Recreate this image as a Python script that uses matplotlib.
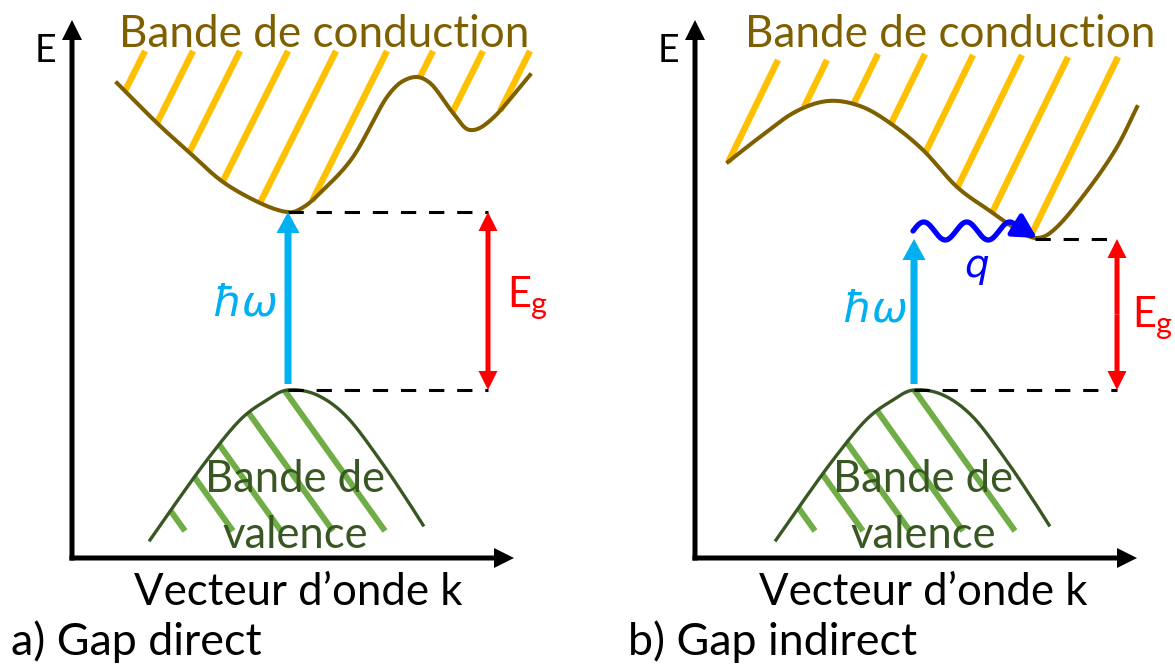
import numpy as np
import matplotlib.pyplot as plt
from matplotlib.patches import FancyArrowPatch
from matplotlib.path import Path

# the drawing is laid out in pixel units of the 1175x664 picture, y pointing down
W, H = 1175, 664

# conduction band outlines
cond_a_x = [117, 157, 190, 223, 260, 287, 302, 320, 353, 387, 410, 430, 453, 470, 493, 530]
cond_a_y = [83, 123, 153, 182, 203, 212, 208, 193, 157, 97, 78, 83, 113, 130, 118, 75]
cond_b_x = [728, 760, 795, 828, 860, 890, 923, 957, 990, 1013, 1036, 1057, 1090, 1117, 1137]
cond_b_y = [162, 137, 112, 101, 106, 123, 150, 187, 211, 227, 238, 227, 187, 147, 107]

# valence band outline of panel a, panel b uses the same shape moved right
val_x = [150, 173, 207, 240, 267, 288, 317, 347, 380, 407, 423]
val_y = [540, 507, 460, 420, 400, 390, 395, 417, 460, 500, 525]
val_shift_b = 626

# hatching: upper ends of the yellow strokes, lower ends of the green ones
yellow_a_x = [145, 193, 240, 288, 336, 387, 433, 483, 530]
yellow_a_y = [51, 51, 51, 51, 51, 51, 51, 51, 51]
yellow_b_x = [778, 827, 878, 925, 973, 1022, 1068, 1118]
yellow_b_y = [60, 60, 54, 54, 55, 55, 57, 57]
green_a_x = [185, 233, 281, 333, 385]
green_b_x = [815, 863, 910, 963, 1015]
green_y = 531

# band edges (k position, energy) used by the gap arrows and dashed lines
vb_top = [(288, 390), (914, 390)]
cb_min = [(288, 212), (1035, 239)]
eg_x = [488, 1117]

# phonon wave of panel b
wave_x0, wave_x1, wave_y0 = 913, 1015, 231
wave_amp, wave_len = 9, 43
wave_tip = (1037, 238)

C_COND = '#7F6000'
C_YELLOW = '#FFC000'
C_VAL = '#385723'
C_GREEN = '#70AD47'
C_PHOTON = '#00B0F0'
C_GAP = '#FF0000'
C_PHONON = '#0000FF'

plt.rcParams['font.family'] = ['Lato', 'Noto Sans', 'DejaVu Sans']


def smooth(xs, ys, n=30):
    # catmull-rom through the read points
    p = np.column_stack([xs, ys]).astype(float)
    p = np.vstack([2 * p[0] - p[1], p, 2 * p[-1] - p[-2]])
    t = np.linspace(0, 1, n, endpoint=False)[:, None]
    out = []
    for i in range(1, len(p) - 2):
        p0, p1, p2, p3 = p[i - 1], p[i], p[i + 1], p[i + 2]
        out.append(0.5 * (2 * p1 + (p2 - p0) * t + (2 * p0 - 5 * p1 + 4 * p2 - p3) * t ** 2
                          + (3 * p1 - p0 - 3 * p2 + p3) * t ** 3))
    out.append(p[-2][None])
    c = np.vstack(out)
    return c[:, 0], c[:, 1]


def stroke(x0, y0, dx, dy, cx, cy, below):
    # walk from (x0, y0) until the band outline is reached
    n = np.hypot(dx, dy)
    s = np.arange(0, 500, 0.25)
    xs = x0 + dx / n * s
    ys = y0 + dy / n * s
    cyi = np.interp(xs, cx, cy)
    hit = (ys >= cyi) if below else (ys <= cyi)
    hit |= xs < cx[0]
    k = np.argmax(hit)
    return [x0, xs[k]], [y0, ys[k]]


def fit(fig, t, width):
    r = fig.canvas.get_renderer()
    w = t.get_window_extent(r).width
    t.set_fontsize(t.get_fontsize() * width / w)
    return t.get_fontsize()


def main():
    fig = plt.figure(figsize=(W / 100, H / 100), dpi=100)
    ax = fig.add_axes([0, 0, 1, 1])
    ax.set_xlim(0, W)
    ax.set_ylim(H, 0)
    ax.axis('off')

    # conduction bands with hatching above
    for cx_, cy_, tx, ty, slope in [(cond_a_x, cond_a_y, yellow_a_x, yellow_a_y, 2.0),
                                    (cond_b_x, cond_b_y, yellow_b_x, yellow_b_y, 2.05)]:
        cx, cy = smooth(cx_, cy_)
        for x0, y0 in zip(tx, ty):
            lx, ly = stroke(x0, y0, -1, slope, cx, cy, below=True)
            ax.plot(lx, ly, color=C_YELLOW, lw=4.6, solid_capstyle='butt', zorder=1)
        ax.plot(cx, cy, color=C_COND, lw=2.9, zorder=2)

    # valence bands with hatching below
    for shift, bx in [(0, green_a_x), (val_shift_b, green_b_x)]:
        vx, vy = smooth(np.array(val_x) + shift, val_y)
        for x0 in bx:
            lx, ly = stroke(x0, green_y, -1, -1.4, vx, vy, below=False)
            ax.plot(lx, ly, color=C_GREEN, lw=4.3, solid_capstyle='butt', zorder=1)
        ax.plot(vx, vy, color=C_VAL, lw=2.4, zorder=2)

    # axes with arrow heads
    for ox, tip_x in [(72, 514), (695, 1137)]:
        ax.arrow(ox, 560.5, 0, 20 - 560.5, width=5, head_width=20, head_length=20,
                 length_includes_head=True, fc='black', lw=0, zorder=3)
        ax.arrow(ox - 2.5, 558, tip_x - ox + 2.5, 0, width=5, head_width=20, head_length=20,
                 length_includes_head=True, fc='black', lw=0, zorder=3)
        ax.text(ox - 27, 51, 'E', ha='center', va='center', fontsize=27, color='black')

    # band gap: dashed levels, photon arrow, gap arrow
    for (vx0, vy0), (cx0, cy0), gx in zip(vb_top, cb_min, eg_x):
        ax.plot([vx0, gx], [vy0, vy0], color='black', lw=2.2, ls=(0, (5.0, 4.2)),
                dash_capstyle='butt', zorder=2)
        ax.plot([cx0, gx], [cy0, cy0], color='black', lw=2.2, ls=(0, (5.0, 4.2)),
                dash_capstyle='butt', zorder=2)
        ax.arrow(vx0, vy0 - 6, 0, (cb_min[0][1] if gx == eg_x[0] else cy0) - (vy0 - 6),
                 width=7, head_width=23, head_length=21, length_includes_head=True,
                 fc=C_PHOTON, lw=0, zorder=3)
        mid = (vy0 + cy0) / 2
        for end in (cy0, vy0):
            ax.arrow(gx, mid, 0, end - mid, width=5, head_width=19, head_length=19,
                     length_includes_head=True, fc=C_GAP, lw=0, zorder=3)

    # phonon q
    wx = np.linspace(wave_x0, wave_x1, 200)
    wy = wave_y0 - wave_amp * np.sin(2 * np.pi * (wx - wave_x0) / wave_len)
    verts = np.vstack([np.column_stack([wx, wy]), wave_tip])
    ax.add_patch(FancyArrowPatch(path=Path(verts), arrowstyle='-|>,head_length=0.7,head_width=0.38',
                                 mutation_scale=20, color=C_PHONON, lw=3.8, capstyle='round',
                                 zorder=4))
    ax.text(977, 277, 'q', ha='center', va='baseline', color=C_PHONON, style='italic',
            family=['DejaVu Sans'], fontsize=28)

    # photon and gap labels
    for x, yb in [(245, 316), (875, 322)]:
        ax.text(x, yb, 'ħω', ha='center', va='baseline', color=C_PHOTON, style='italic',
                family=['DejaVu Sans'], fontsize=31)
    for x, yb in [(507, 307), (1132, 327)]:
        ax.text(x, yb, 'E', ha='left', va='baseline', color=C_GAP, fontsize=30)
        ax.text(x + 24, yb + 7, 'g', ha='left', va='baseline', color=C_GAP, fontsize=22)

    # band names
    fs = None
    for x in (324, 950):
        t = ax.text(x, 47, 'Bande de conduction', ha='center', va='baseline', color=C_COND, fontsize=28)
        fs = fs or fit(fig, t, 410)
        t.set_fontsize(fs)
    fs = None
    for x in (295, 923):
        t = ax.text(x, 492, 'Bande de', ha='center', va='baseline', color=C_VAL, fontsize=30, zorder=5)
        fs = fs or fit(fig, t, 180)
        t.set_fontsize(fs)
        ax.text(x, 548, 'valence', ha='center', va='baseline', color=C_VAL, fontsize=fs, zorder=5)

    # axis titles and panel captions
    fs = None
    for x in (298, 923):
        t = ax.text(x, 605, 'Vecteur d\u2019onde k', ha='center', va='baseline', color='black', fontsize=28)
        fs = fs or fit(fig, t, 328)
        t.set_fontsize(fs)
    t = ax.text(11, 655, 'a) Gap direct', ha='left', va='baseline', color='black', fontsize=28)
    fs = fit(fig, t, 251)
    ax.text(628, 655, 'b) Gap indirect', ha='left', va='baseline', color='black', fontsize=fs)

    fig.savefig('out.png', dpi=100, facecolor='white')


if __name__ == "__main__":
    main()
